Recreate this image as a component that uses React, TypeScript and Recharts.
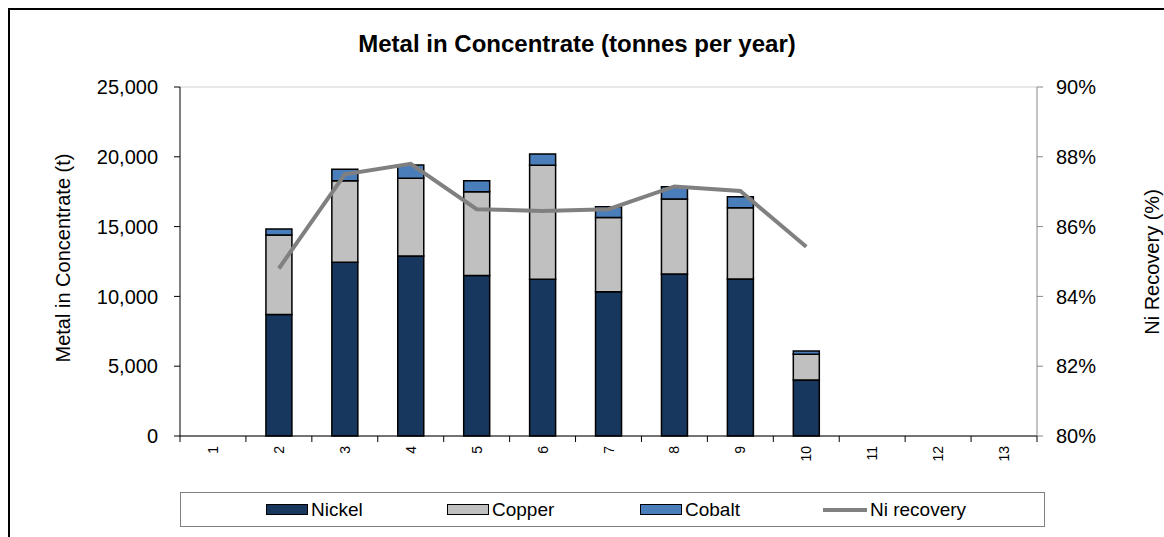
import React from 'react'
import { ComposedChart, Bar, Line, XAxis, YAxis, CartesianGrid } from 'recharts'

// years 1..13
const YEARS = ['1', '2', '3', '4', '5', '6', '7', '8', '9', '10', '11', '12', '13']
const NICKEL = [null, 8700, 12450, 12900, 11500, 11220, 10340, 11600, 11250, 4010, null, null, null]
const COPPER = [null, 5700, 5830, 5560, 6000, 8170, 5320, 5380, 5100, 1840, null, null, null]
const COBALT = [null, 430, 820, 950, 790, 810, 770, 880, 790, 240, null, null, null]
const NI_RECOVERY = [null, 84.8, 87.5, 87.8, 86.5, 86.45, 86.5, 87.15, 87.02, 85.42, null, null, null]

const LEFT_TICKS = [0, 5000, 10000, 15000, 20000, 25000]
const RIGHT_TICKS = [80, 82, 84, 86, 88, 90]

const COLORS = { nickel: '#17375E', copper: '#C0C0C0', cobalt: '#4A7EBB', line: '#808080' }

const W = 1164
const H = 537
const MARGIN = { top: 87, right: 27, bottom: 51, left: 80 }
const Y_W = 100
const PLOT_W = W - MARGIN.left - MARGIN.right - Y_W * 2
const BAND = PLOT_W / YEARS.length
const FONT = '"Liberation Sans", Arial, sans-serif'

const data = YEARS.map((y, i) => ({
  year: y,
  nickel: NICKEL[i],
  copper: COPPER[i],
  cobalt: COBALT[i],
  rec: NI_RECOVERY[i],
}))

const LEGEND = [
  { label: 'Nickel', color: COLORS.nickel, kind: 'box', left: 265 },
  { label: 'Copper', color: COLORS.copper, kind: 'box', left: 446 },
  { label: 'Cobalt', color: COLORS.cobalt, kind: 'box', left: 639 },
  { label: 'Ni recovery', color: COLORS.line, kind: 'line', left: 822 },
]

function YearTick(props: any) {
  const { x, y, payload, index } = props
  return (
    <g>
      <line x1={x - BAND / 2} x2={x - BAND / 2} y1={y} y2={y + 6} stroke="#000" />
      {index === YEARS.length - 1 && (
        <line x1={x + BAND / 2} x2={x + BAND / 2} y1={y} y2={y + 6} stroke="#000" />
      )}
      <text x={x} y={y + 10} transform={`rotate(-90 ${x} ${y + 10})`} textAnchor="end"
        dominantBaseline="central" fontSize={14} fill="#000" fontFamily={FONT}>
        {payload.value}
      </text>
    </g>
  )
}

export default function App() {
  return (
    <div style={{ position: 'absolute', left: 0, top: 0, width: W, height: H, overflow: 'hidden', background: '#fff', fontFamily: FONT }}>
      <div style={{ position: 'absolute', left: 8, top: 8, width: 1170, height: 560, border: '2px solid #000', boxSizing: 'border-box' }} />

      <div style={{ position: 'absolute', left: 0, width: W - 10, top: 30, textAlign: 'center', fontSize: 24, fontWeight: 'bold' }}>
        Metal in Concentrate (tonnes per year)
      </div>

      <div style={{ position: 'absolute', left: 63, top: 258, transform: 'translate(-50%, -50%) rotate(-90deg)', whiteSpace: 'nowrap', fontSize: 20 }}>
        Metal in Concentrate (t)
      </div>
      <div style={{ position: 'absolute', left: 1152, top: 262, transform: 'translate(-50%, -50%) rotate(-90deg)', whiteSpace: 'nowrap', fontSize: 20 }}>
        Ni Recovery (%)
      </div>

      <div style={{ position: 'absolute', left: 0, top: 0 }}>
        <ComposedChart width={W} height={H} data={data} margin={MARGIN} barSize={26}>
          <CartesianGrid vertical={false} stroke="#D0D0D0" />
          <XAxis dataKey="year" height={50} tickLine={false} tickSize={0} tickMargin={0}
            axisLine={{ stroke: '#000' }} tick={<YearTick />} interval={0} />
          <YAxis yAxisId="l" width={Y_W} domain={[0, 25000]} ticks={LEFT_TICKS}
            tickFormatter={(v: number) => v.toLocaleString('en-US')}
            axisLine={{ stroke: '#000' }} tickLine={{ stroke: '#000' }} tickSize={6} tickMargin={16}
            tick={{ fill: '#000', fontSize: 20, fontFamily: FONT }} />
          <YAxis yAxisId="r" orientation="right" width={Y_W} domain={[80, 90]} ticks={RIGHT_TICKS}
            tickFormatter={(v: number) => `${v}%`}
            axisLine={{ stroke: '#888' }} tickLine={{ stroke: '#888' }} tickSize={6} tickMargin={13}
            tick={{ fill: '#000', fontSize: 20, fontFamily: FONT }} />
          <Bar yAxisId="l" dataKey="nickel" stackId="m" fill={COLORS.nickel} stroke="#000" strokeWidth={1.5} isAnimationActive={false} />
          <Bar yAxisId="l" dataKey="copper" stackId="m" fill={COLORS.copper} stroke="#000" strokeWidth={1.5} isAnimationActive={false} />
          <Bar yAxisId="l" dataKey="cobalt" stackId="m" fill={COLORS.cobalt} stroke="#000" strokeWidth={1.5} isAnimationActive={false} />
          <Line yAxisId="r" dataKey="rec" stroke={COLORS.line} strokeWidth={4} dot={false} isAnimationActive={false} />
        </ComposedChart>
      </div>

      <div style={{ position: 'absolute', left: 180, top: 492, width: 865, height: 35, border: '1px solid #808080', boxSizing: 'border-box' }}>
        {LEGEND.map((it) => (
          <div key={it.label} style={{ position: 'absolute', left: it.left - 180, top: 0, height: 33, display: 'flex', alignItems: 'center', fontSize: 19 }}>
            {it.kind === 'box' ? (
              <span style={{ display: 'inline-block', width: 40, height: 9, background: it.color, border: '1.5px solid #000', marginRight: 3 }} />
            ) : (
              <span style={{ display: 'inline-block', width: 44, height: 4, background: it.color, marginRight: 3 }} />
            )}
            {it.label}
          </div>
        ))}
      </div>
    </div>
  )
}
